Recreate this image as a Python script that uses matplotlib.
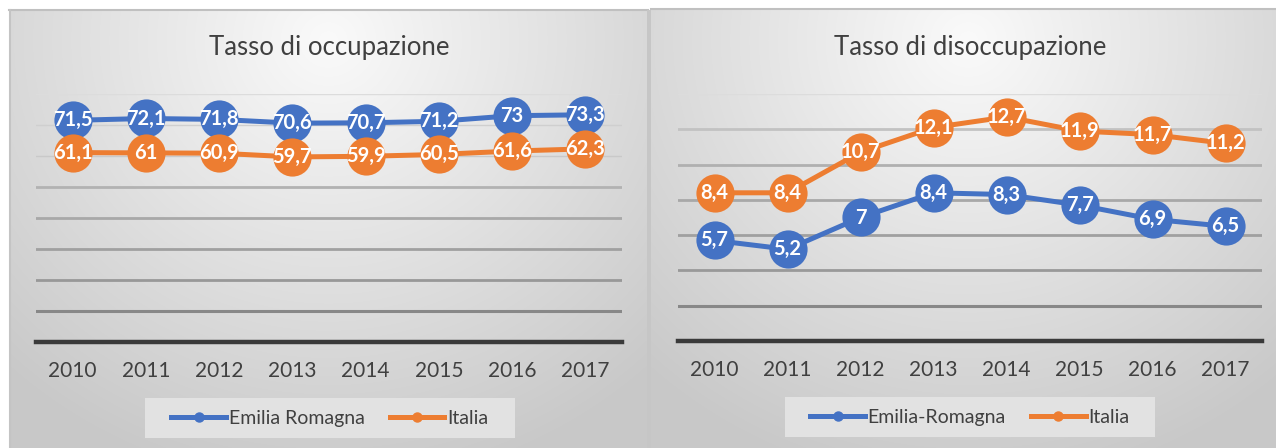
import numpy as np
import matplotlib
matplotlib.use("Agg")
import matplotlib.pyplot as plt
from matplotlib.patches import Rectangle
from matplotlib.lines import Line2D

plt.rcParams['font.family'] = ['Lato', 'DejaVu Sans']

# ---------------- data ----------------
years = ["2010", "2011", "2012", "2013", "2014", "2015", "2016", "2017"]

occ_title = "Tasso di occupazione"
occ_emilia = [71.5, 72.1, 71.8, 70.6, 70.7, 71.2, 73.0, 73.3]
occ_italia = [61.1, 61.0, 60.9, 59.7, 59.9, 60.5, 61.6, 62.3]
occ_labels = ["Emilia Romagna", "Italia"]

dis_title = "Tasso di disoccupazione"
dis_emilia = [5.7, 5.2, 7.0, 8.4, 8.3, 7.7, 6.9, 6.5]
dis_italia = [8.4, 8.4, 10.7, 12.1, 12.7, 11.9, 11.7, 11.2]
dis_labels = ["Emilia-Romagna", "Italia"]

BLUE = "#4472C4"
ORANGE = "#ED7D31"
TXT = "#404040"

W, H = 1276, 448
fig = plt.figure(figsize=(W / 100, H / 100), dpi=100)
fig.patch.set_facecolor("white")

# ---------------- panel backgrounds (radial gradient) ----------------
bg = fig.add_axes([0, 0, 1, 1])
bg.set_xlim(0, W)
bg.set_ylim(H, 0)
bg.axis("off")
img = np.ones((H, W)) * 255.0
yy, xx = np.mgrid[0:H, 0:W]
panels = [(9, 648, 10, 328), (651, W, 9, 968)]
for x0, x1, y0, cx in panels:
    d = np.sqrt((xx - cx) ** 2 + ((yy - 40) * 1.05) ** 2)
    v = np.clip(250 - 0.105 * d, 200, 255)
    mask = (xx >= x0) & (xx < x1) & (yy >= y0)
    img[mask] = v[mask]
rgb = np.dstack([img, img, img]) / 255.0
bg.imshow(rgb, extent=(0, W, H, 0), aspect="auto", interpolation="bilinear", zorder=0)
# panel borders
bg.plot([9, 648], [10.5, 10.5], color="#c0c0c0", lw=1.5, zorder=1)
bg.plot([9.5, 9.5], [10, H], color="#c4c4c4", lw=1.5, zorder=1)
bg.plot([651, W], [9.5, 9.5], color="#c0c0c0", lw=1.5, zorder=1)
bg.add_patch(Rectangle((647, 10), 4, H - 10, color="#c6c6c6", lw=0, zorder=1))


def fmt(v):
    return ("%g" % v).replace(".", ",")


def make_panel(rect_px, ymax, step, grid_colors, grid_widths, s1, s2, labels, title,
               legend_box):
    x0, x1, ytop, ybot = rect_px
    ax = fig.add_axes([x0 / W, 1 - ybot / H, (x1 - x0) / W, (ybot - ytop) / H])
    ax.set_facecolor("none")
    n = len(years)
    x = np.arange(n)
    ax.set_xlim(-0.5, n - 0.5)
    ax.set_ylim(0, ymax)
    levels = np.arange(step, ymax + step / 2, step)
    for lv, c, w in zip(levels, grid_colors, grid_widths):
        ax.axhline(lv, color=c, lw=w, zorder=1)
    ax.axhline(0, color="#3a3a3a", lw=3.2, zorder=2, clip_on=False)
    for s in ax.spines.values():
        s.set_visible(False)
    ax.set_yticks([])
    ax.set_xticks(x)
    ax.set_xticklabels(years, fontsize=15, color=TXT)
    ax.tick_params(axis="x", length=0, pad=14)

    for vals, col in ((s1, BLUE), (s2, ORANGE)):
        ax.plot(x, vals, color=col, lw=3.6, marker="o", markersize=27.5,
                markeredgewidth=0, zorder=3, clip_on=False)
        for xi, v in zip(x, vals):
            ax.text(xi, v, fmt(v), ha="center", va="center", color="white",
                    fontsize=14.5, fontweight="bold", zorder=4)

    cxp = (x0 + x1) / 2
    fig.text(cxp / W, 1 - 48 / H, title, ha="center", va="center",
             fontsize=18.5, color=TXT)

    lx0, lx1, ly0, ly1 = legend_box
    bg.add_patch(Rectangle((lx0, ly0), lx1 - lx0, ly1 - ly0, color="#e2e2e2",
                           lw=0, zorder=2))
    handles = [Line2D([], [], color=BLUE, lw=3.6, marker="o", markersize=6.5),
               Line2D([], [], color=ORANGE, lw=3.6, marker="o", markersize=6.5)]
    fig.legend(handles, labels, loc="center",
               bbox_to_anchor=(((lx0 + lx1) / 2) / W, 1 - ((ly0 + ly1) / 2) / H),
               ncol=2, frameon=False, fontsize=14, labelcolor=TXT,
               handlelength=2.8, handletextpad=0.15, columnspacing=1.3,
               borderpad=0.2)
    return ax


occ_colors = ["#dcdcdc", "#cfcfcf", "#c9c9c9", "#b2b2b2", "#a8a8a8", "#a0a0a0",
              "#989898", "#888888"]
occ_widths = [1.0, 1.0, 1.0, 2.0, 2.0, 2.0, 2.0, 2.2]
occ_colors = occ_colors[::-1]
occ_widths = occ_widths[::-1]

dis_colors = ["#888888", "#999999", "#a0a0a0", "#a8a8a8", "#b0b0b0", "#c2c2c2",
              "#dcdcdc"]
dis_widths = [2.2, 2.0, 2.0, 2.0, 2.0, 2.0, 1.0]

make_panel((36, 622, 94, 342), 80, 10, occ_colors, occ_widths, occ_emilia, occ_italia,
           occ_labels, occ_title, (145, 515, 398, 438))
make_panel((678, 1262, 94, 341), 14, 2, dis_colors, dis_widths, dis_emilia, dis_italia,
           dis_labels, dis_title, (785, 1155, 397, 437))

fig.savefig("out.png", dpi=100)
